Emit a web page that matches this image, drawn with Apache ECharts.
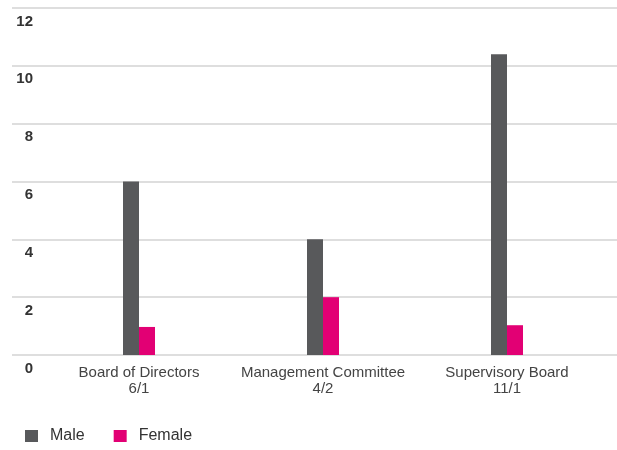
<!DOCTYPE html>
<html>
<head>
<meta charset="utf-8">
<script src="https://cdn.jsdelivr.net/npm/echarts@6/dist/echarts.min.js"></script>
<style>
  html, body { margin: 0; padding: 0; background: #fff; }
  #chart { width: 617px; height: 450px; }
</style>
</head>
<body>
<div id="chart"></div>
<script>
// board names and the male/female counts printed under them
const categories = ['Board of Directors\n6/1', 'Management Committee\n4/2', 'Supervisory Board\n11/1'];
const maleValues = [6, 4, 10.4];
const femaleValues = [0.97, 2, 1.03];
const yTicks = [0, 2, 4, 6, 8, 10, 12];

const chart = echarts.init(document.getElementById('chart'));

const option = {
    animation: false,
    textStyle: { fontFamily: 'Liberation Sans, Arial, sans-serif' },
    // grid 0 only carries the long grid lines + y labels, grid 1 holds the bars
    grid: [
        { left: 12, right: 0, top: 8, bottom: 95 },
        { left: 47, right: 18, top: 8, bottom: 95 }
    ],
    legend: {
        left: 20,
        top: 423,
        itemWidth: 13,
        itemHeight: 12,
        itemGap: 29,
        icon: 'rect',
        textStyle: { fontSize: 16, color: '#333', padding: [0, 0, 0, 7] },
        data: ['Male', 'Female']
    },
    xAxis: [
        { gridIndex: 0, type: 'category', data: [], show: false },
        {
            gridIndex: 1,
            type: 'category',
            data: categories,
            axisLine: { show: false },
            axisTick: { show: false },
            axisLabel: {
                interval: 0,
                margin: 10,
                fontSize: 15,
                lineHeight: 16,
                color: '#444'
            }
        }
    ],
    yAxis: [
        {
            gridIndex: 0,
            type: 'value',
            min: yTicks[0],
            max: yTicks[yTicks.length - 1],
            interval: 2,
            axisLine: { show: false },
            axisTick: { show: false },
            splitLine: { lineStyle: { color: '#d3d3d3', width: 1.5 } },
            axisLabel: {
                inside: true,
                margin: 21,
                align: 'right',
                verticalAlign: 'top',
                padding: [6, 0, 0, 0],
                fontSize: 15,
                fontWeight: 'bold',
                color: '#333'
            }
        },
        {
            gridIndex: 1,
            type: 'value',
            min: yTicks[0],
            max: yTicks[yTicks.length - 1],
            interval: 2,
            show: false
        }
    ],
    series: [
        {
            name: 'Male',
            type: 'bar',
            xAxisIndex: 1,
            yAxisIndex: 1,
            barWidth: 16,
            barGap: '0%',
            itemStyle: { color: '#58595b' },
            data: maleValues
        },
        {
            name: 'Female',
            type: 'bar',
            xAxisIndex: 1,
            yAxisIndex: 1,
            barWidth: 16,
            barGap: '0%',
            itemStyle: { color: '#e20074' },
            data: femaleValues
        }
    ]
};

chart.setOption(option);
</script>
</body>
</html>
